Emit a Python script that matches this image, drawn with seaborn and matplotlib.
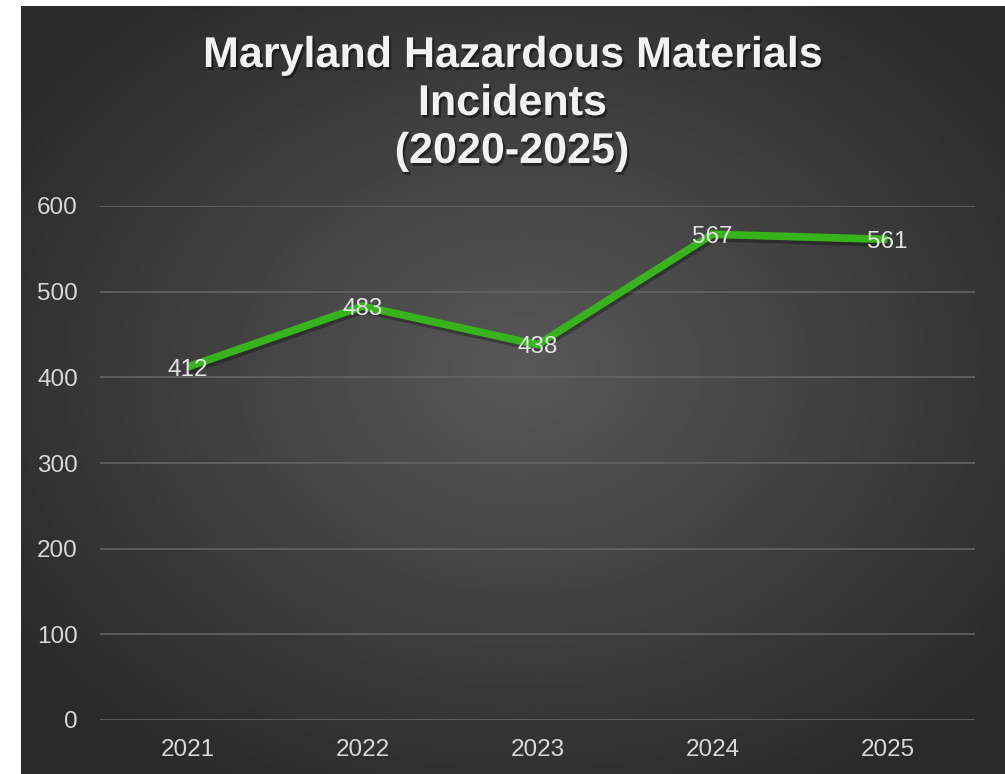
import numpy as np
import pandas as pd
import seaborn as sns
import matplotlib.pyplot as plt
import matplotlib.patheffects as pe

years = ["2021", "2022", "2023", "2024", "2025"]
incidents = [412, 483, 438, 567, 561]
y_ticks = [0, 100, 200, 300, 400, 500, 600]
title_lines = ["Maryland Hazardous Materials", "Incidents", "(2020-2025)"]

df = pd.DataFrame({"year": years, "incidents": incidents})

sns.set_theme(style="dark")
plt.rcParams['font.family'] = ['Liberation Sans', 'DejaVu Sans']

W, H = 1005, 774
fig = plt.figure(figsize=(W / 100, H / 100), dpi=100)
fig.patch.set_facecolor("white")

# radial gradient background for the chart area
bg = fig.add_axes([21 / W, 0, 1 - 21 / W, 1 - 6 / H])
gx, gy = np.meshgrid(np.linspace(-1, 1, 400), np.linspace(-1, 1, 320))
r = np.sqrt((gx - 0.02) ** 2 + (gy + 0.05) ** 2)
r = np.clip(r / 1.25, 0, 1)
shade = 0.345 - 0.18 * r
bg.imshow(shade, cmap="gray", vmin=0, vmax=1, aspect="auto", extent=[0, 1, 0, 1])
bg.set_axis_off()

ax = fig.add_axes([100 / W, 1 - 720 / H, 875 / W, (720 - 206) / H])
ax.patch.set_alpha(0)

sns.lineplot(data=df, x="year", y="incidents", ax=ax, color="#37b41c",
             linewidth=5.5, solid_capstyle="butt",
             path_effects=[pe.SimpleLineShadow(offset=(1, -2.5), shadow_color="black", alpha=0.3),
                           pe.Normal()])

# data labels sit right on the points
for i, v in enumerate(incidents):
    ax.text(i, v, str(v), ha="center", va="center_baseline", fontsize=17.5, color="#e4e4e4")

ax.set_xlim(-0.5, len(years) - 0.5)
ax.set_ylim(0, 600)
ax.set_yticks(y_ticks)
ax.yaxis.grid(True, color="#646464", linewidth=1.2)
ax.xaxis.grid(False)
ax.set_axisbelow(True)
for s in ax.spines.values():
    s.set_visible(False)
ax.tick_params(axis="both", colors="#d9d9d9", labelsize=17.5, length=0)
ax.tick_params(axis="y", pad=16)
ax.tick_params(axis="x", pad=14)
ax.set_xlabel("")
ax.set_ylabel("")

title_y = [67, 115, 163]
for line, yb in zip(title_lines, title_y):
    fig.text(512 / W, 1 - yb / H, line, ha="center", va="baseline",
             fontsize=31, fontweight="bold", color="#f2f2f2",
             path_effects=[pe.withSimplePatchShadow(offset=(1.5, -2), shadow_rgbFace="black", alpha=0.45)])

fig.savefig("out.png", dpi=100, facecolor=fig.get_facecolor())
